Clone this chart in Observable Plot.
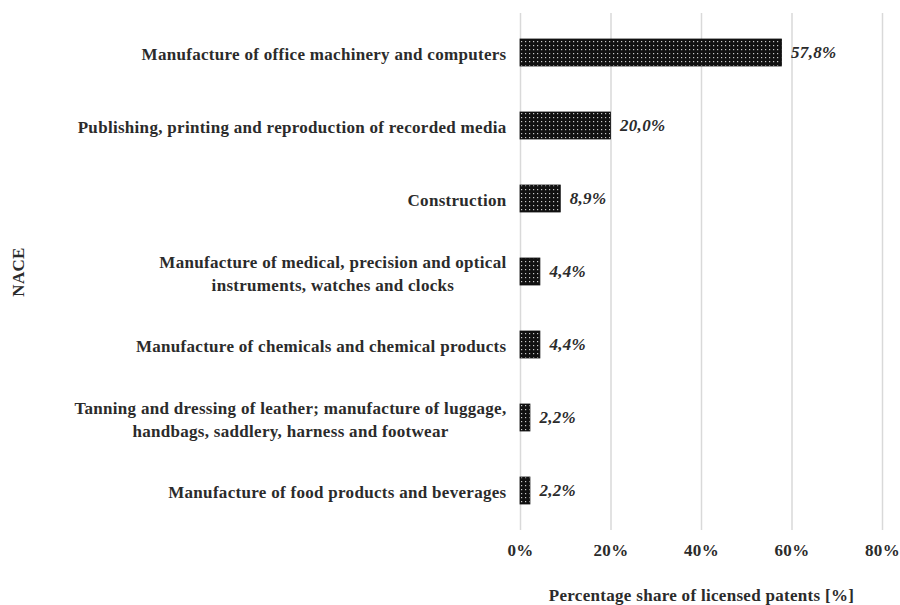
<!DOCTYPE html>
<html>
<head>
<meta charset="utf-8">
<script src="https://cdn.jsdelivr.net/npm/d3@7"></script>
<script src="https://cdn.jsdelivr.net/npm/@observablehq/plot@0.6"></script>
<style>
  html, body { margin: 0; padding: 0; background: #fff; }
  svg text { letter-spacing: 0.3px; }
</style>
</head>
<body>
<div id="chart"></div>
<script>
const categories = [
  "Manufacture of office machinery and computers",
  "Publishing, printing and reproduction of recorded media",
  "Construction",
  "Manufacture of medical, precision and optical\ninstruments, watches and clocks",
  "Manufacture of chemicals and chemical products",
  "Tanning and dressing of leather; manufacture of luggage,\nhandbags, saddlery, harness and footwear",
  "Manufacture of food products and beverages"
];
const values = [57.8, 20.0, 8.9, 4.4, 4.4, 2.2, 2.2];
const valueLabels = ["57,8%", "20,0%", "8,9%", "4,4%", "4,4%", "2,2%", "2,2%"];
const xTicks = [0, 20, 40, 60, 80];
const xTickLabels = ["0%", "20%", "40%", "60%", "80%"];
const xTitle = "Percentage share of licensed patents [%]";
const yTitle = "NACE";

const rows = categories.map((c, i) => ({cat: c, value: values[i], label: valueLabels[i]}));

const FONT = "'Liberation Serif', 'Times New Roman', serif";
const FS = 17;
const LS = 0.3;
const canvas = document.createElement("canvas");
const ctx = canvas.getContext("2d");
ctx.font = `bold ${FS}px 'Liberation Serif'`;
function maxLineWidth(s) {
  return Math.max(...s.split("\n").map(l => ctx.measureText(l).width + LS * l.length));
}

const labelMarks = rows.map(r => Plot.text([r], {
  y: "cat",
  text: d => d.cat,
  frameAnchor: "left",
  textAnchor: "middle",
  lineHeight: 1.35,
  dx: -(14 + maxLineWidth(r.cat) / 2),
  fill: "#2b2b2b"
}));

const svg = Plot.plot({
  width: 900,
  height: 605,
  marginLeft: 520,
  marginRight: 18,
  marginTop: 13,
  marginBottom: 75,
  style: {fontFamily: FONT, fontWeight: "bold", fontSize: FS + "px", color: "#2b2b2b", background: "#fff"},
  x: {domain: [0, 80]},
  y: {domain: categories, padding: 0, axis: null},
  marks: [
    Plot.gridX(xTicks, {stroke: "#d9d9d9", strokeOpacity: 1, strokeWidth: 1.5}),
    Plot.axisX({ticks: xTicks, tickFormat: d => xTickLabels[xTicks.indexOf(d)], tickSize: 0, tickPadding: 13, label: null, fill: "#2b2b2b"}),
    Plot.barX(rows, {x: "value", y: "cat", fill: "url(#dots)", stroke: "#111", strokeWidth: 0.8, insetTop: 23, insetBottom: 23}),
    Plot.text(rows, {x: "value", y: "cat", text: "label", textAnchor: "start", dx: 9, fontStyle: "italic", fill: "#2b2b2b"}),
    ...labelMarks,
    Plot.text([yTitle], {frameAnchor: "left", textAnchor: "middle", dx: -502, rotate: -90, fill: "#2b2b2b"}),
    Plot.text([xTitle], {frameAnchor: "bottom", lineAnchor: "middle", dy: 65, fill: "#2b2b2b"})
  ]
});

const ns = "http://www.w3.org/2000/svg";
const defs = document.createElementNS(ns, "defs");
defs.innerHTML = `<pattern id="dots" patternUnits="userSpaceOnUse" width="4" height="4">
  <rect width="4" height="4" fill="#111"/>
  <rect x="1" y="1" width="1.2" height="1.2" fill="#c8c8c8"/>
</pattern>`;
svg.insertBefore(defs, svg.firstChild);
document.getElementById("chart").appendChild(svg);
</script>
</body>
</html>
